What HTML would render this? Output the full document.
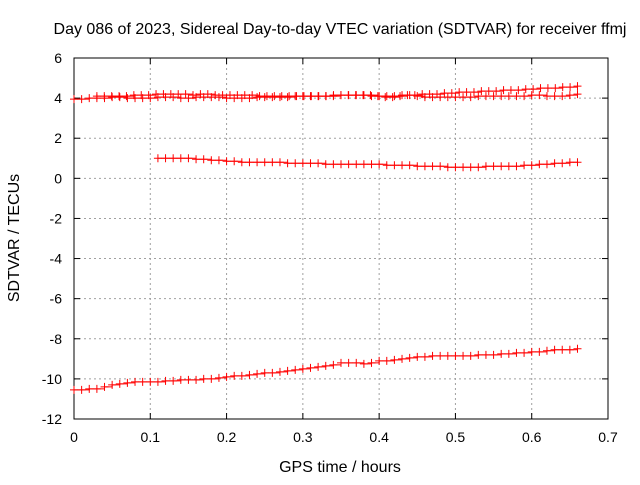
<!DOCTYPE html>
<html><head><meta charset="utf-8"><style>
body{margin:0;background:#fff;width:640px;height:480px;overflow:hidden}
text{font-family:"Liberation Sans",sans-serif;font-size:14px;fill:#000}
.big{font-size:16px}
</style></head><body>
<svg id="chart" width="640" height="480" xmlns="http://www.w3.org/2000/svg">
<g id="grid"></g>
<g id="axes"></g>
<g id="series"></g>
<text class="big" x="340" y="34" text-anchor="middle">Day 086 of 2023, Sidereal Day-to-day VTEC variation (SDTVAR) for receiver ffmj</text>
<text class="big" x="340" y="472" text-anchor="middle">GPS time / hours</text>
<text class="big" transform="translate(19,238) rotate(-90)" text-anchor="middle">SDTVAR / TECUs</text>
</svg>
<script>
const xTicks=[0,0.1,0.2,0.3,0.4,0.5,0.6,0.7];
const xTickLabels=["0","0.1","0.2","0.3","0.4","0.5","0.6","0.7"];
const yTicks=[6,4,2,0,-2,-4,-6,-8,-10,-12];
const yTickLabels=["6","4","2","0","-2","-4","-6","-8","-10","-12"];
const seriesRanges=[[0,0.66],[0.03,0.66],[0.11,0.66],[0,0.66]];
const seriesTopLower=[3.95,3.95,4.0,4.0,4.0,4.05,4.05,4.0,4.0,4.0,4.0,4.05,4.05,4.05,4.0,4.0,4.05,4.05,4.05,4.05,4.0,4.0,4.0,4.0,4.05,4.05,4.05,4.05,4.05,4.1,4.1,4.1,4.1,4.1,4.1,4.15,4.15,4.15,4.15,4.1,4.1,4.1,4.1,4.15,4.15,4.1,4.05,4.05,4.05,4.05,4.05,4.05,4.05,4.1,4.1,4.1,4.1,4.1,4.1,4.1,4.15,4.15,4.1,4.1,4.1,4.15,4.2];
const seriesTopUpper=[4.1,4.1,4.1,4.1,4.1,4.15,4.15,4.15,4.2,4.2,4.2,4.2,4.2,4.15,4.2,4.2,4.15,4.15,4.15,4.15,4.15,4.15,4.1,4.1,4.1,4.1,4.1,4.1,4.1,4.1,4.1,4.1,4.15,4.15,4.15,4.15,4.15,4.15,4.1,4.05,4.05,4.1,4.15,4.15,4.2,4.2,4.2,4.25,4.25,4.3,4.3,4.3,4.35,4.35,4.35,4.4,4.4,4.4,4.45,4.45,4.5,4.5,4.5,4.55,4.55,4.6];
const seriesMiddle=[1.0,1.0,1.0,1.0,1.0,0.95,0.95,0.9,0.9,0.85,0.85,0.8,0.8,0.8,0.8,0.8,0.8,0.75,0.75,0.75,0.75,0.75,0.7,0.7,0.7,0.7,0.7,0.7,0.7,0.7,0.65,0.65,0.65,0.65,0.6,0.6,0.6,0.6,0.55,0.55,0.55,0.55,0.55,0.6,0.6,0.6,0.6,0.6,0.65,0.65,0.7,0.7,0.75,0.75,0.8,0.8];
const seriesBottom=[-10.55,-10.55,-10.5,-10.5,-10.4,-10.3,-10.25,-10.2,-10.15,-10.15,-10.15,-10.15,-10.1,-10.1,-10.05,-10.05,-10.05,-10.0,-10.0,-9.95,-9.9,-9.85,-9.85,-9.8,-9.75,-9.7,-9.7,-9.65,-9.6,-9.55,-9.5,-9.45,-9.4,-9.35,-9.3,-9.2,-9.2,-9.2,-9.25,-9.2,-9.1,-9.1,-9.05,-9.0,-8.95,-8.9,-8.9,-8.85,-8.85,-8.85,-8.85,-8.85,-8.85,-8.8,-8.8,-8.8,-8.75,-8.75,-8.7,-8.7,-8.65,-8.65,-8.6,-8.55,-8.55,-8.55,-8.5];

const L=74,R=608,T=58,B=419;
const sx=v=>L+(v-0)/(0.7-0)*(R-L);
const sy=v=>B-(v+12)/(18)*(B-T);
const NS="http://www.w3.org/2000/svg";
function mk(tag,attrs,parent){const e=document.createElementNS(NS,tag);for(const k in attrs)e.setAttribute(k,attrs[k]);parent.appendChild(e);return e;}
const grid=document.getElementById('grid'),axes=document.getElementById('axes'),ser=document.getElementById('series');
xTicks.forEach((t,i)=>{
  if(i>0&&i<xTicks.length-1){const g=mk('line',{x1:sx(t),x2:sx(t),y1:T,y2:B,stroke:'#a0a0a0','stroke-dasharray':'2,3'},grid);}
  mk('line',{x1:sx(t),x2:sx(t),y1:B,y2:B-6,stroke:'#000'},axes);
  mk('line',{x1:sx(t),x2:sx(t),y1:T,y2:T+6,stroke:'#000'},axes);
  const tx=mk('text',{x:sx(t),y:B+23,'text-anchor':'middle'},axes);tx.textContent=xTickLabels[i];
  
  
});
yTicks.forEach((t,i)=>{
  if(i>0&&i<yTicks.length-1){const g=mk('line',{x1:L,x2:R,y1:sy(t),y2:sy(t),stroke:'#a0a0a0','stroke-dasharray':'2,3'},grid);}
  mk('line',{x1:L,x2:L+6,y1:sy(t),y2:sy(t),stroke:'#000'},axes);
  mk('line',{x1:R,x2:R-6,y1:sy(t),y2:sy(t),stroke:'#000'},axes);
  const tx=mk('text',{x:62,y:sy(t)+5,'text-anchor':'end'},axes);tx.textContent=yTickLabels[i];
  
  
});
const fr=mk('rect',{x:L,y:T,width:R-L,height:B-T,fill:'none',stroke:'#000'},axes);


const all=[seriesTopLower,seriesTopUpper,seriesMiddle,seriesBottom];
const names=['series-top-lower','series-top-upper','series-middle','series-bottom'];
all.forEach((vals,si)=>{
  const [x0,x1]=seriesRanges[si];
  const xs=vals.map((v,i)=>x0+i*(x1-x0)/(vals.length-1));
  const g=mk('g',{},ser);
  
  
  let d='';
  vals.forEach((v,i)=>{
    const px=sx(xs[i]),py=sy(v);
    if(i===0)d+='M'+px+','+py;else d+='H'+px+'V'+py;
  });
  mk('path',{d:d,fill:'none',stroke:'#ff0000','stroke-width':1},g);
  vals.forEach((v,i)=>{
    const px=sx(xs[i]),py=sy(v);
    const p=mk('path',{d:`M${px-4},${py}H${px+4}M${px},${py-4}V${py+4}`,stroke:'#ff0000','stroke-width':1},g);
    
    
  });
});
</script>
</body></html>
